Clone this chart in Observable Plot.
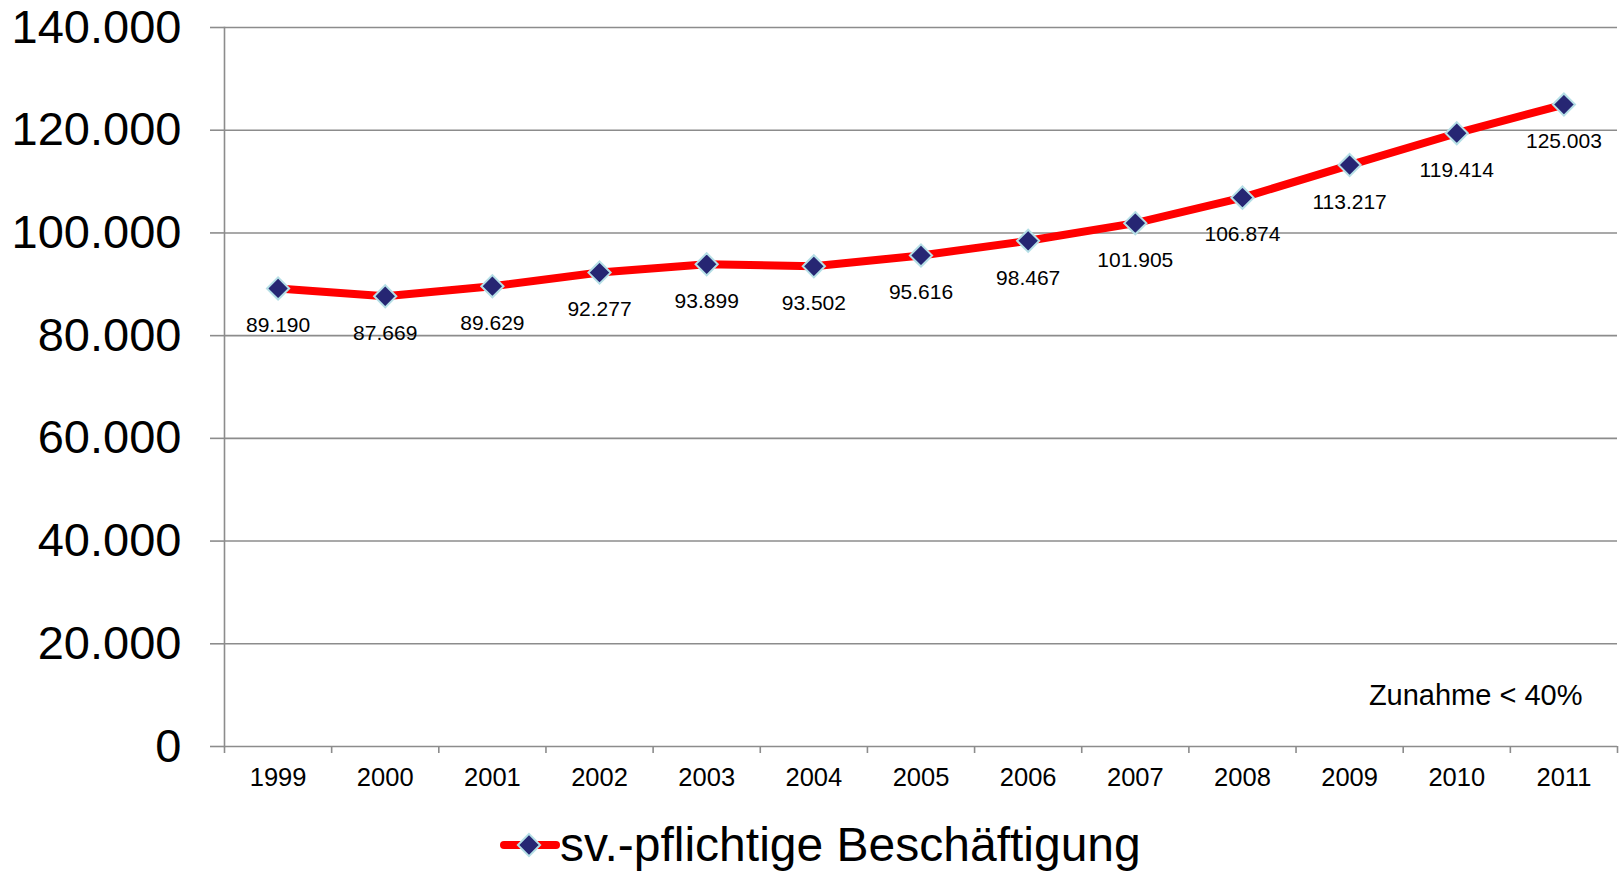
<!DOCTYPE html>
<html><head><meta charset="utf-8">
<script src="https://cdn.jsdelivr.net/npm/d3@7"></script>
<script src="https://cdn.jsdelivr.net/npm/@observablehq/plot@0.6"></script>
<style>
body{margin:0;background:#fff;font-family:"Liberation Sans",Arial,sans-serif;}
#wrap{position:relative;width:1621px;height:875px;overflow:hidden;}
#chart svg{display:block;}
#legendKey{position:absolute;left:496px;top:829px;}
#legendText{position:absolute;left:560px;top:817px;font-size:48px;line-height:55px;color:#000;white-space:nowrap;}
</style></head><body>
<div id="wrap"><div id="chart"></div><svg id="legendKey" width="68" height="32"></svg><div id="legendText"></div></div>
<script>
const years = [1999,2000,2001,2002,2003,2004,2005,2006,2007,2008,2009,2010,2011];
const values = [89190,87669,89629,92277,93899,93502,95616,98467,101905,106874,113217,119414,125003];
const yTicks = [0,20000,40000,60000,80000,100000,120000,140000];
const seriesName = "sv.-pflichtige Beschäftigung";
const note = "Zunahme < 40%";

const lineColor = "#ff0000";
const markerFill = "#262673";
const markerStroke = "#b5dfe6";
const gridColor = "#8c8c8c";

const fmt = d => d3.format(",")(d).replace(/,/g, ".");
const data = years.map((year, i) => ({year, value: values[i]}));
const boundaries = years.map(y => y - 0.5).concat([years[years.length - 1] + 0.5]);

const chart = Plot.plot({
  width: 1621,
  height: 800,
  marginLeft: 224,
  marginRight: 4,
  marginTop: 27,
  marginBottom: 54,
  style: {fontFamily: '"Liberation Sans", Arial, sans-serif', color: "#000", background: "#fff"},
  x: {domain: [years[0] - 0.5, years[years.length - 1] + 0.5]},
  y: {domain: [0, 140000]},
  marks: [
    Plot.gridY(yTicks, {stroke: gridColor, strokeOpacity: 1, strokeWidth: 1.6}),
    Plot.frame({anchor: "left", stroke: gridColor, strokeWidth: 1.6}),
    Plot.axisY(yTicks, {tickSize: 14, tickPadding: 29, tickFormat: fmt, fontSize: 47, stroke: gridColor, strokeWidth: 1.6, label: null, fill: "#000"}),
    Plot.axisX(boundaries, {tickSize: 7, tickFormat: () => "", stroke: gridColor, strokeWidth: 1.6, label: null}),
    Plot.axisX(years, {tickSize: 0, tickPadding: 21, tickFormat: d => String(d), fontSize: 25.5, label: null, fill: "#000"}),
    Plot.line(data, {x: "year", y: "value", stroke: lineColor, strokeWidth: 8}),
    Plot.dot(data, {x: "year", y: "value", symbol: "diamond2", r: 10, fill: markerFill, stroke: markerStroke, strokeWidth: 2}),
    Plot.text(data, {x: "year", y: "value", text: d => fmt(d.value), dy: 37, fontSize: 21, fill: "#000"}),
    Plot.text([note], {frameAnchor: "bottom-right", text: d => d, textAnchor: "end", dx: -35, dy: -42, fontSize: 29, fill: "#000"})
  ]
});
document.getElementById("chart").appendChild(chart);

// legend
const key = d3.select("#legendKey");
key.append("line").attr("x1", 8).attr("x2", 60).attr("y1", 16).attr("y2", 16)
  .attr("stroke", lineColor).attr("stroke-width", 8).attr("stroke-linecap", "round");
key.append("path").attr("d", d3.symbol(d3.symbolDiamond2, 10 * 10 * Math.PI)())
  .attr("transform", "translate(33,16)").attr("fill", markerFill).attr("stroke", markerStroke).attr("stroke-width", 2);
document.getElementById("legendText").textContent = seriesName;
</script>
</body></html>
